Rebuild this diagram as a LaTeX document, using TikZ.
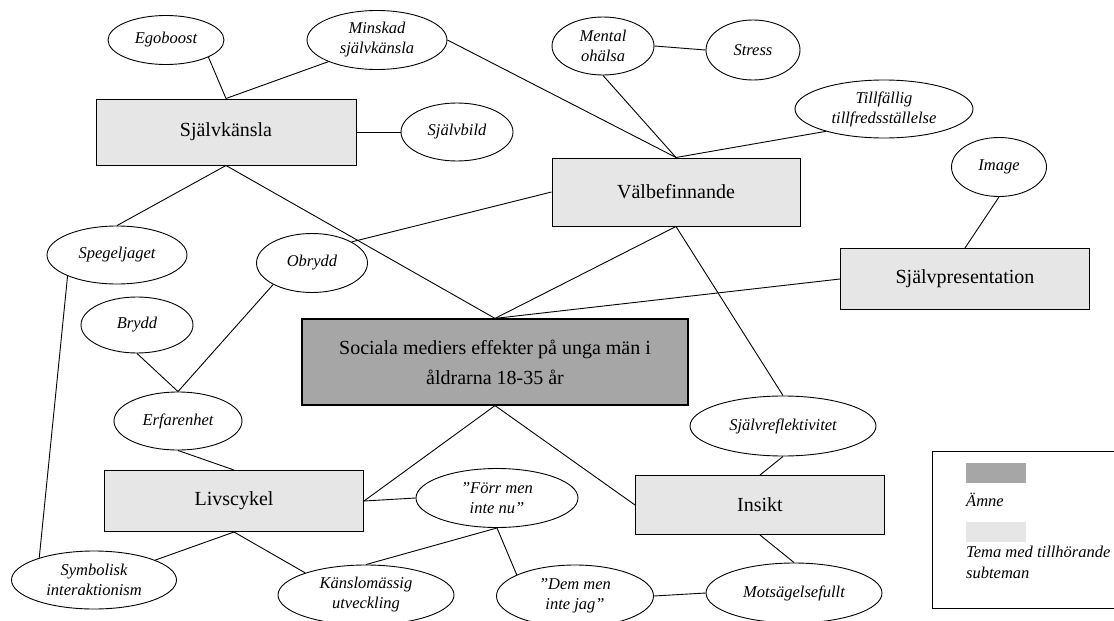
\documentclass[tikz,border=0pt]{standalone}
\usepackage{fontspec}
\setmainfont{Liberation Serif}
\usetikzlibrary{shapes.geometric}
\definecolor{themegray}{HTML}{E6E6E6}
\definecolor{topicgray}{HTML}{A6A6A6}
\begin{document}
\begin{tikzpicture}[x=1pt,y=-1pt,
  theme/.style={draw=black, line width=1pt, fill=themegray, rectangle, inner sep=0pt, font=\fontsize{20}{24}\selectfont},
  topicbox/.style={draw=black, line width=1.2pt, fill=topicgray, rectangle, inner sep=0pt, align=center, font=\fontsize{20}{30}\selectfont},
  sub/.style={draw=black, line width=0.9pt, ellipse, inner sep=0pt, align=center, font=\fontsize{16.5}{20}\selectfont\itshape},
  link/.style={draw=black, line width=0.9pt},
  legtext/.style={anchor=west, inner sep=0pt, align=left, font=\fontsize{16.5}{21}\selectfont\itshape}]
\useasboundingbox (0,0) rectangle (1114,621);

% theme boxes
\node[theme, minimum width=260pt, minimum height=66pt] (sk) at (226,132) {Självkänsla};
\node[theme, minimum width=248pt, minimum height=68pt] (vb) at (676,192) {Välbefinnande};
\node[theme, minimum width=249pt, minimum height=61pt] (sp) at (965,279) {Självpresentation};
\node[theme, minimum width=259pt, minimum height=61pt] (liv) at (234,501) {Livscykel};
\node[theme, minimum width=249pt, minimum height=59pt] (ins) at (760,505) {Insikt};
\node[topicbox, minimum width=386pt, minimum height=86pt] (topic) at (495,362) {Sociala mediers effekter på unga män i\\åldrarna 18-35 år};

% sub themes
\node[sub, minimum width=116pt, minimum height=49pt] (ego) at (166,40) {Egoboost};
\node[sub, minimum width=140pt, minimum height=59pt] (min) at (377,40) {Minskad\\självkänsla};
\node[sub, minimum width=102pt, minimum height=58pt] (mental) at (603,46) {Mental\\ohälsa};
\node[sub, minimum width=94pt, minimum height=60pt] (stress) at (753,50) {Stress};
\node[sub, minimum width=178pt, minimum height=58pt] (till) at (884,109) {Tillfällig\\tillfredsställelse};
\node[sub, minimum width=112pt, minimum height=58pt] (sbild) at (457,132) {Självbild};
\node[sub, minimum width=95pt, minimum height=59pt] (img) at (999,167) {Image};
\node[sub, minimum width=140pt, minimum height=58pt] (spg) at (117,255) {Spegeljaget};
\node[sub, minimum width=111pt, minimum height=59pt] (obr) at (312,263) {Obrydd};
\node[sub, minimum width=112pt, minimum height=56pt] (brydd) at (137,325) {Brydd};
\node[sub, minimum width=128pt, minimum height=58pt] (erf) at (178,421) {Erfarenhet};
\node[sub, minimum width=186pt, minimum height=60pt] (refl) at (783,426) {Självreflektivitet};
\node[sub, minimum width=162pt, minimum height=59pt] (forr) at (497,498) {”Förr men\\inte nu”};
\node[sub, minimum width=165pt, minimum height=58pt] (sym) at (94,580) {Symbolisk\\interaktionism};
\node[sub, minimum width=176pt, minimum height=60pt] (kansl) at (366,595) {Känslomässig\\utveckling};
\node[sub, minimum width=157pt, minimum height=62pt] (dem) at (575,596) {”Dem men\\inte jag”};
\node[sub, minimum width=176pt, minimum height=60pt] (mot) at (794,593) {Motsägelsefullt};

% legend
\node[draw=black, line width=1pt, rectangle, inner sep=0pt, minimum width=195pt, minimum height=157pt, anchor=north west] (leg) at (932,451) {};
\node[fill=topicgray, inner sep=0pt, minimum width=60pt, minimum height=20pt, anchor=north west] (sw1) at (966,463) {};
\node[legtext] (lt1) at (966,500) {Ämne};
\node[fill=themegray, inner sep=0pt, minimum width=60pt, minimum height=20pt, anchor=north west] (sw2) at (966,522) {};
\node[legtext, anchor=north west] (lt2) at (966,546) {Tema med tillhörande\\subteman};

% connectors
\draw[link] (ego.-22) -- (sk.north);
\draw[link] (min.-156) -- (sk.north);
\draw[link] (min.east) -- (vb.north);
\draw[link] (sk.east) -- (sbild.west);
\draw[link] (sk.south) -- (spg.north);
\draw[link] (sk.south) -- (topic.north);
\draw[link] (mental.south) -- (vb.north);
\draw[link] (mental.east) -- (stress.west);
\draw[link] (till.-159) -- (vb.north);
\draw[link] (vb.west) -- (obr.28);
\draw[link] (vb.south) -- (topic.north);
\draw[link] (vb.south) -- (refl.north);
\draw[link] (sp.west) -- (topic.north);
\draw[link] (img.south) -- (sp.north);
\draw[link] (obr.-151) -- (erf.north);
\draw[link] (brydd.south) -- (erf.north);
\draw[link] (erf.south) -- (liv.north);
\draw[link] (spg.-157) -- (sym.158);
\draw[link] (topic.south) -- (liv.east);
\draw[link] (topic.south) -- (ins.west);
\draw[link] (liv.east) -- (forr.west);
\draw[link] (liv.south) -- (sym.18);
\draw[link] (liv.south) -- (kansl.160);
\draw[link] (forr.south) -- (kansl.north);
\draw[link] (forr.south) -- (dem.160);
\draw[link] (dem.east) -- (mot.west);
\draw[link] (ins.south) -- (mot.north);
\draw[link] (refl.south) -- (ins.north);
\end{tikzpicture}
\end{document}
